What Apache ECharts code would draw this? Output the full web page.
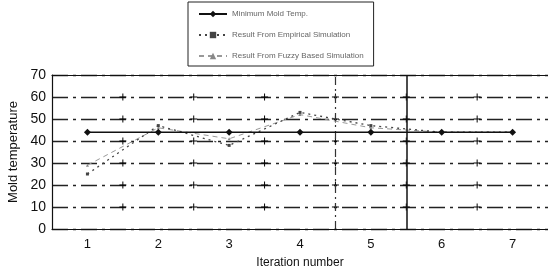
<!DOCTYPE html>
<html><head><meta charset="utf-8">
<script src="https://cdn.jsdelivr.net/npm/echarts@6/dist/echarts.min.js"></script>
<style>html,body{margin:0;padding:0;background:#fff}#c{width:548px;height:273px}</style>
</head><body><div id="c"></div>
<script>
const categories = ['1','2','3','4','5','6','7'];
const minMoldTemp = [44, 44, 44, 44, 44, 44, 44];
const empirical = [25, 47, 38, 53, 47, 44, 44];
const fuzzy = [29, 46, 41, 52, 46, 44, 44];
const yTicks = [0, 10, 20, 30, 40, 50, 60, 70];
const dividerLines = [4.5, 5.5];

const crosses = [];
for (let b = 1; b < categories.length; b++) {
  for (const t of yTicks.slice(1, -1)) crosses.push([b + 0.5, t]);
}
const chart = echarts.init(document.getElementById('c'));
const font = 'Liberation Sans, Arial, sans-serif';
chart.setOption({
  animation: false,
  backgroundColor: '#fff',
  grid: { left: 52, right: 0, top: 75, bottom: 44, containLabel: false, outerBoundsMode: 'none' },
  legend: {
    orient: 'vertical', left: 188, top: 2, itemGap: 13, itemWidth: 28, itemHeight: 8,
    backgroundColor: '#fff', borderColor: '#222', borderWidth: 1, padding: [8, 10, 6, 10],
    textStyle: { fontFamily: font, fontSize: 8, color: '#666' },
    data: ['Minimum Mold Temp.', 'Result From Empirical Simulation', 'Result From Fuzzy Based Simulation']
  },
  xAxis: [{
    type: 'category', data: categories, boundaryGap: true,
    name: 'Iteration number', nameLocation: 'middle', nameGap: 28,
    nameTextStyle: { fontFamily: font, fontSize: 12, color: '#111' },
    axisLine: { lineStyle: { color: '#111', width: 1.2 } },
    axisTick: { show: false },
    axisLabel: { fontFamily: font, fontSize: 13, color: '#111', margin: 9 },
    splitLine: { show: false }
  }, {
    type: 'value', min: 0.5, max: 7.5, position: 'top', show: true,
    axisLine: { show: true, onZero: false, lineStyle: { color: '#111', width: 1.2 } },
    axisTick: { show: false }, axisLabel: { show: false }, splitLine: { show: false }
  }],
  yAxis: {
    type: 'value', min: 0, max: 70, interval: 10,
    name: 'Mold temperature', nameLocation: 'middle', nameGap: 28,
    nameTextStyle: { fontFamily: font, fontSize: 13, color: '#111' },
    axisLine: { show: true, lineStyle: { color: '#111', width: 1.2 } },
    axisTick: { show: false },
    axisLabel: { fontFamily: font, fontSize: 14, color: '#111', margin: 6 },
    splitLine: { show: true, lineStyle: { color: '#222', width: 1.3, type: [16, 5, 3, 5] } }
  },
  series: [{
    name: 'Minimum Mold Temp.', type: 'line', data: minMoldTemp,
    symbol: 'diamond', symbolSize: 7, itemStyle: { color: '#111' },
    lineStyle: { color: '#111', width: 1.5 }, z: 5
  }, {
    name: 'Result From Empirical Simulation', type: 'line', data: empirical,
    symbol: 'rect', symbolSize: 3, itemStyle: { color: '#444' },
    lineStyle: { color: '#444', width: 1.3, type: [2, 4] }, z: 4
  }, {
    name: 'Result From Fuzzy Based Simulation', type: 'line', data: fuzzy,
    symbol: 'triangle', symbolSize: 3, itemStyle: { color: '#888' },
    lineStyle: { color: '#999', width: 1, type: [5, 4] }, z: 3
  }, {
    type: 'scatter', xAxisIndex: 1, data: crosses, silent: true,
    symbol: 'path://M0,4.3H10V5.7H0Z M4.3,0H5.7V10H4.3Z', symbolSize: 7,
    itemStyle: { color: '#000', opacity: 1 }, z: 2,
    markLine: {
      silent: true, symbol: 'none', label: { show: false },
      data: [
        { xAxis: dividerLines[0], lineStyle: { color: '#333', width: 1.2, type: [8, 4, 2, 4] } },
        { xAxis: dividerLines[1], lineStyle: { color: '#111', width: 1.5, type: 'solid' } }
      ]
    }
  }]
});
</script></body></html>
